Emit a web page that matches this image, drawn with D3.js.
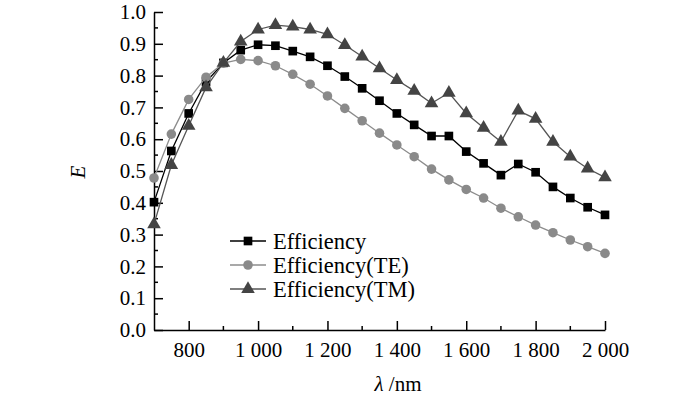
<!DOCTYPE html>
<html>
<head>
<meta charset="utf-8">
<script src="https://cdn.jsdelivr.net/npm/d3@7"></script>
<style>
  body { margin: 0; background: #fff; }
  text { font-family: "Liberation Serif", "Times New Roman", serif; }
</style>
</head>
<body>
<div id="chart"></div>
<script>
var wavelengths = [700, 750, 800, 850, 900, 950, 1000, 1050, 1100, 1150, 1200, 1250, 1300, 1350,
  1400, 1450, 1500, 1550, 1600, 1650, 1700, 1750, 1800, 1850, 1900, 1950, 2000];

var efficiency = [0.402, 0.563, 0.681, 0.780, 0.840, 0.880, 0.897, 0.894, 0.877, 0.859, 0.831, 0.797, 0.760, 0.721,
  0.681, 0.645, 0.610, 0.610, 0.561, 0.524, 0.487, 0.522, 0.496, 0.450, 0.415, 0.386, 0.362];

var efficiencyTE = [0.478, 0.616, 0.725, 0.795, 0.839, 0.851, 0.847, 0.831, 0.804, 0.773, 0.736, 0.697, 0.658, 0.619,
  0.582, 0.545, 0.506, 0.472, 0.442, 0.415, 0.383, 0.356, 0.330, 0.306, 0.283, 0.262, 0.241];

var efficiencyTM = [0.332, 0.519, 0.642, 0.763, 0.840, 0.907, 0.945, 0.959, 0.954, 0.945, 0.930, 0.896, 0.860, 0.823,
  0.786, 0.752, 0.713, 0.746, 0.681, 0.636, 0.592, 0.690, 0.664, 0.592, 0.545, 0.508, 0.480];

var seriesNames = ["Efficiency", "Efficiency(TE)", "Efficiency(TM)"];
var xTicks = [800, 1000, 1200, 1400, 1600, 1800, 2000];
var xMinorTicks = [900, 1100, 1300, 1500, 1700, 1900];
var yTicks = [0, 0.1, 0.2, 0.3, 0.4, 0.5, 0.6, 0.7, 0.8, 0.9, 1.0];
var yMinorTicks = [0.05, 0.15, 0.25, 0.35, 0.45, 0.55, 0.65, 0.75, 0.85, 0.95];

var svgWidth = 700;
var svgHeight = 395;
var margin = { top: 12, right: 95, bottom: 65, left: 154 };
var width = svgWidth - margin.left - margin.right;
var height = svgHeight - margin.top - margin.bottom;

var svg = d3.select("#chart")
  .append("svg")
  .attr("width", svgWidth)
  .attr("height", svgHeight);

var chartGroup = svg.append("g")
  .attr("transform", `translate(${margin.left}, ${margin.top})`);

var x = d3.scaleLinear().domain([700, 2000]).range([0, width]);
var y = d3.scaleLinear().domain([0, 1]).range([height, 0]);

// axes: ticks point inward
var xAxis = chartGroup.append("g")
  .attr("transform", `translate(0, ${height})`)
  .call(d3.axisBottom(x).tickValues(xTicks).tickSizeInner(-9).tickSizeOuter(0)
    .tickFormat(d => d3.format(",")(d).replace(",", " ")));
xAxis.selectAll("text").attr("y", 12).attr("font-size", 21).attr("fill", "#000")
  .style("font-family", "Liberation Serif");
xAxis.append("g").selectAll("line")
  .data(xMinorTicks).enter().append("line")
  .attr("x1", d => x(d)).attr("x2", d => x(d))
  .attr("y1", 0).attr("y2", -4)
  .attr("stroke", "#000").attr("stroke-width", 1.5);

var yAxis = chartGroup.append("g")
  .call(d3.axisLeft(y).tickValues(yTicks).tickSizeInner(-9).tickSizeOuter(0)
    .tickFormat(d3.format(".1f")));
yAxis.selectAll("text").attr("x", -8).attr("font-size", 21).attr("fill", "#000")
  .style("font-family", "Liberation Serif");
yAxis.append("g").selectAll("line")
  .data(yMinorTicks).enter().append("line")
  .attr("y1", d => y(d)).attr("y2", d => y(d))
  .attr("x1", 0).attr("x2", 4)
  .attr("stroke", "#000").attr("stroke-width", 1.5);

chartGroup.selectAll(".domain, .tick line")
  .attr("stroke", "#000").attr("stroke-width", 1.5);

// series
var series = [
  { name: seriesNames[0], values: efficiency, line: "#000", fill: "#000", shape: d3.symbolSquare, size: 75 },
  { name: seriesNames[1], values: efficiencyTE, line: "#8c8c8c", fill: "#8a8a8a", shape: d3.symbolCircle, size: 72 },
  { name: seriesNames[2], values: efficiencyTM, line: "#555", fill: "#444", shape: d3.symbolTriangle, size: 80 }
];

var line = d3.line()
  .x((d, i) => x(wavelengths[i]))
  .y(d => y(d));

series.forEach(function(s) {
  chartGroup.append("path")
    .datum(s.values)
    .attr("d", line)
    .attr("fill", "none")
    .attr("stroke", s.line)
    .attr("stroke-width", 1.3);
  chartGroup.selectAll(null)
    .data(s.values)
    .enter()
    .append("path")
    .attr("d", d3.symbol().type(s.shape).size(s.size))
    .attr("transform", (d, i) => `translate(${x(wavelengths[i])}, ${y(d)})`)
    .attr("fill", s.fill);
});

// legend
var legend = svg.append("g").attr("transform", "translate(230, 241)");
series.forEach(function(s, i) {
  var row = legend.append("g").attr("transform", `translate(0, ${i * 24})`);
  row.append("line")
    .attr("x1", 0).attr("x2", 36).attr("y1", 0).attr("y2", 0)
    .attr("stroke", s.line).attr("stroke-width", 1.3);
  row.append("path")
    .attr("d", d3.symbol().type(s.shape).size(s.size))
    .attr("transform", "translate(18, 0)")
    .attr("fill", s.fill);
  row.append("text")
    .attr("x", 43).attr("y", 7.5)
    .attr("font-size", 22.5)
    .text(s.name);
});

// axis labels
svg.append("text")
  .attr("transform", "translate(85, 172) rotate(-90)")
  .attr("text-anchor", "middle")
  .attr("font-size", 21)
  .attr("font-style", "italic")
  .text("E");

svg.append("text")
  .attr("x", 398).attr("y", 391)
  .attr("text-anchor", "middle")
  .attr("font-size", 21)
  .html('<tspan font-style="italic">λ</tspan> /nm');
</script>
</body>
</html>
